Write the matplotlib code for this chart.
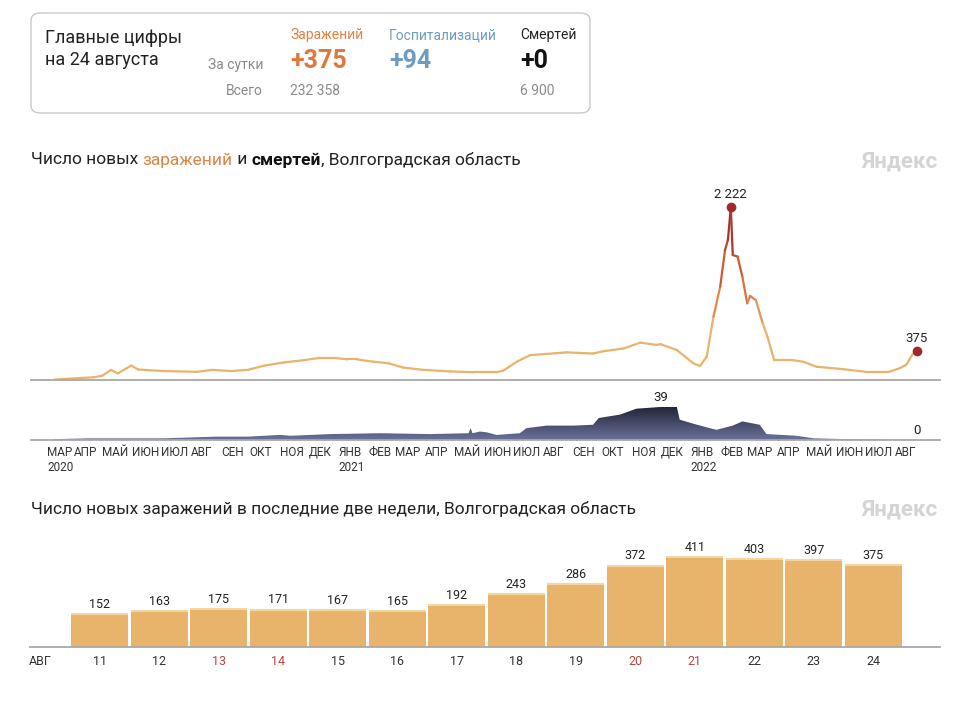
import matplotlib
matplotlib.use('Agg')
import matplotlib.pyplot as plt
import matplotlib.dates as mdates
from matplotlib.collections import LineCollection
from matplotlib.colors import LinearSegmentedColormap
from matplotlib.patches import FancyBboxPatch
import numpy as np
import pandas as pd

plt.rcParams['font.family'] = ['Roboto', 'DejaVu Sans']

# --- data ---
case_dates = ['2020-03-12', '2020-04-22', '2020-05-01', '2020-05-10', '2020-05-17', '2020-05-31',
              '2020-06-07', '2020-07-04', '2020-08-07', '2020-08-23', '2020-09-11', '2020-09-29',
              '2020-10-16', '2020-11-05', '2020-11-26', '2020-12-13', '2020-12-27', '2021-01-10',
              '2021-01-20', '2021-02-06', '2021-02-22', '2021-03-09', '2021-03-30', '2021-04-27',
              '2021-05-21', '2021-06-14', '2021-06-21', '2021-07-05', '2021-07-19', '2021-08-05',
              '2021-08-26', '2021-09-22', '2021-10-03', '2021-10-24', '2021-11-10', '2021-11-27',
              '2021-12-01', '2021-12-18', '2022-01-04', '2022-01-11', '2022-01-18', '2022-01-25',
              '2022-02-01', '2022-02-06', '2022-02-09', '2022-02-12', '2022-02-14', '2022-02-19',
              '2022-02-24', '2022-03-01', '2022-03-04', '2022-03-10', '2022-03-17', '2022-03-22',
              '2022-03-29', '2022-04-17', '2022-04-28', '2022-05-12', '2022-06-08', '2022-07-02',
              '2022-07-26', '2022-08-06', '2022-08-13', '2022-08-19', '2022-08-24']
case_values = [5, 35, 55, 130, 85, 185,
               135, 115, 105, 130, 115, 130,
               185, 225, 255, 285, 285, 265,
               265, 235, 215, 160, 130, 110,
               100, 100, 120, 235, 320, 335,
               355, 340, 370, 405, 480, 450,
               460, 385, 215, 180, 300, 815,
               1200, 1670, 1800, 2222, 1605, 1585,
               1325, 985, 1080, 1025, 730, 555,
               255, 255, 235, 170, 140, 105,
               105, 150, 195, 320, 375]

death_dates = ['2020-03-12', '2020-04-18', '2020-05-31', '2020-07-04', '2020-08-28', '2020-09-29',
               '2020-11-02', '2020-11-12', '2020-12-24', '2021-02-13', '2021-04-06', '2021-05-16',
               '2021-05-18', '2021-05-20', '2021-05-28', '2021-06-04', '2021-06-14', '2021-07-08',
               '2021-07-15', '2021-08-05', '2021-09-02', '2021-09-22', '2021-09-28', '2021-10-20',
               '2021-11-06', '2021-12-01', '2021-12-18', '2021-12-21', '2022-01-08', '2022-01-28',
               '2022-02-14', '2022-02-24', '2022-03-14', '2022-03-21', '2022-04-21', '2022-05-09',
               '2022-06-12', '2022-08-24']
death_values = [1, 2, 2, 2, 4, 4,
                6, 5, 7, 8, 7, 8,
                14, 8, 10, 9, 6, 8,
                14, 17, 17, 18, 26, 30,
                37, 39, 39, 24, 18, 12,
                17, 22, 18, 7, 5, 2,
                1, 0]

month_ticks = ['2020-03-05', '2020-04-01', '2020-05-01', '2020-06-01', '2020-07-01', '2020-08-01',
               '2020-09-01', '2020-10-01', '2020-11-01', '2020-12-01', '2021-01-01', '2021-02-01',
               '2021-03-01', '2021-04-01', '2021-05-01', '2021-06-01', '2021-07-01', '2021-08-01',
               '2021-09-01', '2021-10-01', '2021-11-01', '2021-12-01', '2022-01-01', '2022-02-01',
               '2022-03-01', '2022-04-01', '2022-05-01', '2022-06-01', '2022-07-01', '2022-08-01']
month_labels = ['МАР\n2020', 'АПР', 'МАЙ', 'ИЮН', 'ИЮЛ', 'АВГ', 'СЕН', 'ОКТ', 'НОЯ', 'ДЕК',
                'ЯНВ\n2021', 'ФЕВ', 'МАР', 'АПР', 'МАЙ', 'ИЮН', 'ИЮЛ', 'АВГ', 'СЕН', 'ОКТ', 'НОЯ', 'ДЕК',
                'ЯНВ\n2022', 'ФЕВ', 'МАР', 'АПР', 'МАЙ', 'ИЮН', 'ИЮЛ', 'АВГ']

bar_days = ['11', '12', '13', '14', '15', '16', '17', '18', '19', '20', '21', '22', '23', '24']
bar_values = [152, 163, 175, 171, 167, 165, 192, 243, 286, 372, 411, 403, 397, 375]
weekend_days = ['13', '14', '20', '21']

ORANGE = '#E8B36A'
DOT = '#9E2B2B'
GRAY_TXT = '#8a8a8a'

W, H = 960, 722
fig = plt.figure(figsize=(W / 100, H / 100), dpi=100)


def px_axes(x0, y0, x1, y1):
    return fig.add_axes([x0 / W, 1 - y1 / H, (x1 - x0) / W, (y1 - y0) / H])


def fx(x):
    return x / W


def fy(y):
    return 1 - y / H


def text_parts(x, y, parts, size):
    """draw text pieces one after another on a line"""
    renderer = fig.canvas.get_renderer()
    cur = fx(x)
    for txt, color, weight in parts:
        t = fig.text(cur, fy(y), txt, color=color, fontweight=weight, fontsize=size,
                     va='center', ha='left')
        bb = t.get_window_extent(renderer=renderer)
        cur += bb.width / W


# --- summary box ---
box = FancyBboxPatch((fx(31), fy(113)), fx(590) - fx(31), fy(13) - fy(113),
                     boxstyle='round,pad=0,rounding_size=0.01', transform=fig.transFigure,
                     facecolor='white', edgecolor='#c9c9c9', linewidth=1.0)
fig.patches.append(box)
fig.text(fx(45), fy(49), 'Главные цифры\nна 24 августа', fontsize=13, color='#222',
         va='center', ha='left', linespacing=1.25)
fig.text(fx(263), fy(65), 'За сутки', fontsize=10, color=GRAY_TXT, ha='right', va='center')
fig.text(fx(263), fy(91), 'Всего', fontsize=10, color=GRAY_TXT, ha='right', va='center')
fig.text(fx(290), fy(35), 'Заражений', fontsize=10, color='#E3803F', ha='left', va='center')
fig.text(fx(290), fy(61), '+375', fontsize=18, color='#E3763A', fontweight='bold', ha='left', va='center')
fig.text(fx(290), fy(91), '232 358', fontsize=10, color=GRAY_TXT, ha='left', va='center')
fig.text(fx(389), fy(35), 'Госпитализаций', fontsize=10, color='#6E9CC0', ha='left', va='center')
fig.text(fx(389), fy(61), '+94', fontsize=18, color='#6E9CC0', fontweight='bold', ha='left', va='center')
fig.text(fx(520), fy(35), 'Смертей', fontsize=10, color='#222', ha='left', va='center')
fig.text(fx(520), fy(61), '+0', fontsize=18, color='#111', fontweight='bold', ha='left', va='center')
fig.text(fx(520), fy(91), '6 900', fontsize=10, color=GRAY_TXT, ha='left', va='center')

# --- titles ---
text_parts(31, 160, [('Число новых ', '#222', 'normal'), ('заражений', '#DB8447', 'normal'),
                     (' и ', '#222', 'normal'), ('смертей', '#111', 'bold'),
                     (', Волгоградская область', '#222', 'normal')], 12.5)
text_parts(31, 509, [('Число новых заражений в последние две недели, Волгоградская область', '#222', 'normal')], 12.5)
for y in (162, 510):
    fig.text(fx(938), fy(y), 'Яндекс', fontsize=16, color='#d4d4d4', fontweight='bold',
             ha='right', va='center')

xmin = mdates.date2num(pd.Timestamp('2020-02-17'))
xmax = mdates.date2num(pd.Timestamp('2022-09-17'))

# --- cases line ---
ax = px_axes(31, 180, 940, 380)
cx = mdates.date2num(pd.to_datetime(case_dates))
cy = np.array(case_values, dtype=float)
pts = np.column_stack([cx, cy]).reshape(-1, 1, 2)
segs = np.concatenate([pts[:-1], pts[1:]], axis=1)
cmap = LinearSegmentedColormap.from_list('cases', [(0, ORANGE), (0.3, ORANGE), (0.55, '#DC6A3C'), (1, '#962424')])
lc = LineCollection(segs, cmap=cmap, norm=plt.Normalize(0, 2222), linewidth=1.6, capstyle='round')
lc.set_array((cy[:-1] + cy[1:]) / 2)
ax.add_collection(lc)
imax = int(np.argmax(cy))
ax.plot(cx[imax], cy[imax], 'o', color=DOT, ms=6, zorder=5)
ax.plot(cx[-1], cy[-1], 'o', color=DOT, ms=6, zorder=5)
ax.annotate(f'{int(cy[imax]):,}'.replace(',', ' '), (cx[imax], cy[imax]), xytext=(0, 4),
            textcoords='offset points', ha='center', va='bottom', fontsize=9.5, color='#222')
ax.annotate(f'{int(cy[-1])}', (cx[-1], cy[-1]), xytext=(0, 4),
            textcoords='offset points', ha='center', va='bottom', fontsize=9.5, color='#222')
ax.set_xlim(xmin, xmax)
ax.set_ylim(0, 2222 * 200 / 173)
ax.set_xticks([])
ax.set_yticks([])
for s in ('top', 'left', 'right'):
    ax.spines[s].set_visible(False)
ax.spines['bottom'].set_color('#a8a8a8')
ax.spines['bottom'].set_linewidth(1.3)
ax.patch.set_alpha(0)

# --- deaths area ---
ax2 = px_axes(31, 395, 940, 440)
dx = mdates.date2num(pd.to_datetime(death_dates))
dy = np.array(death_values, dtype=float)
ytop = 39 * 45 / 33
poly = ax2.fill_between(dx, dy, 0, color='none', linewidth=0)
dcmap = LinearSegmentedColormap.from_list('deaths', ['#6C7199', '#23253A'])
grad = np.linspace(0, 1, 256).reshape(-1, 1)
im = ax2.imshow(grad, extent=[xmin, xmax, 0, ytop], origin='lower', aspect='auto', cmap=dcmap,
                vmin=0, vmax=39 / ytop)
im.set_clip_path(poly.get_paths()[0], transform=ax2.transData)
jmax = int(np.argmax(dy))
ax2.annotate(f'{int(dy[jmax])}', (dx[jmax], dy[jmax]), xytext=(0, 2), textcoords='offset points',
             ha='center', va='bottom', fontsize=9.5, color='#222')
ax2.annotate(f'{int(dy[-1])}', (dx[-1], dy[-1]), xytext=(0, 2), textcoords='offset points',
             ha='center', va='bottom', fontsize=9.5, color='#222')
ax2.set_xlim(xmin, xmax)
ax2.set_ylim(0, ytop)
ax2.set_yticks([])
ax2.set_xticks(mdates.date2num(pd.to_datetime(month_ticks)))
ax2.set_xticklabels(month_labels, ha='left', fontsize=8.5, color='#333')
ax2.tick_params(axis='x', length=0, pad=4)
for s in ('top', 'left', 'right'):
    ax2.spines[s].set_visible(False)
ax2.spines['bottom'].set_color('#a8a8a8')
ax2.spines['bottom'].set_linewidth(1.3)
ax2.patch.set_alpha(0)

# --- last two weeks bars ---
ax3 = px_axes(30, 530, 940, 647)
bx = np.arange(len(bar_values))
ax3.bar(bx, bar_values, width=0.965, color=ORANGE, linewidth=0)
ax3.hlines(bar_values, bx - 0.48, bx + 0.48, color='#F4D6A2', linewidth=1.5)
for x, v in zip(bx, bar_values):
    ax3.text(x, v + 14, str(v), ha='center', va='bottom', fontsize=9, color='#222')
ax3.set_xlim((30 - 99.75) / 59.5, (940 - 99.75) / 59.5)
ax3.set_ylim(0, 411 * 117 / 90)
ax3.set_yticks([])
ax3.set_xticks(np.concatenate([[-1], bx]))
ax3.set_xticklabels(['АВГ'] + bar_days, fontsize=9, color='#333')
for lbl, d in zip(ax3.get_xticklabels()[1:], bar_days):
    if d in weekend_days:
        lbl.set_color('#B8453C')
ax3.tick_params(axis='x', length=0, pad=6)
for s in ('top', 'left', 'right'):
    ax3.spines[s].set_visible(False)
ax3.spines['bottom'].set_color('#a8a8a8')
ax3.spines['bottom'].set_linewidth(1.3)

fig.savefig('out.png', dpi=100, facecolor='white')
